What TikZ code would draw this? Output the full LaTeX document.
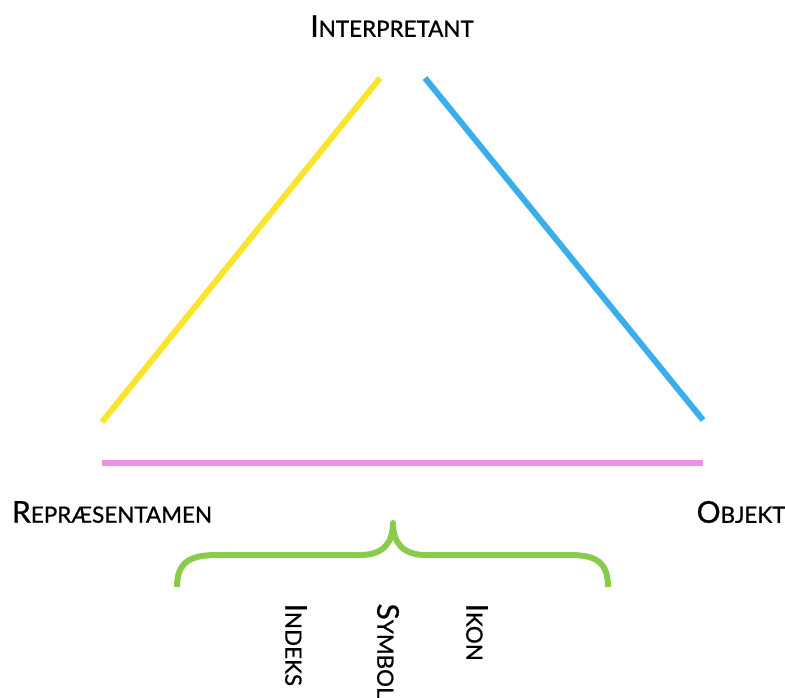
\documentclass[tikz,border=0pt]{standalone}
\usepackage{fontspec}
\setmainfont{Lato}
\newfontfamily\labelfont{Lato}[FakeBold=0.8]
\usepackage{xcolor}
\definecolor{signyellow}{HTML}{FAE42C}
\definecolor{signblue}{HTML}{3AAEEA}
\definecolor{signpink}{HTML}{EE90E8}
\definecolor{signgreen}{HTML}{8BCB4B}
\usepackage{tikz}
\usetikzlibrary{positioning}

% fake small caps: big first letter, small rest
\newcommand{\bigsc}[2]{{\fontsize{22.5}{22.5}\selectfont #1}{\fontsize{16.8}{16.8}\selectfont #2}}

\tikzset{
	side/.style={line width=4.5pt, line cap=butt},
	corner/.style={inner sep=0pt, font=\labelfont},
	kind/.style={inner sep=0pt, rotate=-90, anchor=west, font=\labelfont},
}

\begin{document}
\begin{tikzpicture}[x=0.75pt, y=-0.75pt, thick]
	\useasboundingbox (0, 0) rectangle (785, 697);
	
	% corners
	\node[corner] (interp) at (392, 26) {\bigsc{I}{NTERPRETANT}};
	\node[corner] (repr) at (112, 512) {\bigsc{R}{EPRÆSENTAMEN}};
	\node[corner] (obj) at (741, 512) {\bigsc{O}{BJEKT}};
	
	\coordinate (yA) at (102, 422);
	\coordinate (yB) at (380, 78);
	\coordinate (bA) at (425, 78);
	\coordinate (bB) at (703, 420);
	\coordinate (pA) at (102, 463);
	\coordinate (pB) at (703, 463);
	
	\draw[side, signyellow] (yA) -- (yB);
	\draw[side, signblue] (bA) -- (bB);
	\draw[side, signpink] (pA) -- (pB);
	
	% brace
	\coordinate (gL) at (177, 587);
	\coordinate (gT) at (393, 523);
	\coordinate (gR) at (608, 587);
	\draw[side, signgreen, line join=round] (gL) .. controls (177, 562) and (190, 555) .. (217, 555)
		-- (360, 555) .. controls (384, 555) and (393, 542) .. (gT)
		.. controls (393, 542) and (402, 555) .. (426, 555)
		-- (570, 555) .. controls (596, 555) and (608, 562) .. (gR);
	
	% kinds of sign
	\node[kind] (indeks) at (296, 603) {\bigsc{I}{NDEKS}};
	\node[kind] (symbol) at (388, 603) {\bigsc{S}{YMBOL}};
	\node[kind] (ikon) at (477, 603) {\bigsc{I}{KON}};
\end{tikzpicture}
\end{document}
